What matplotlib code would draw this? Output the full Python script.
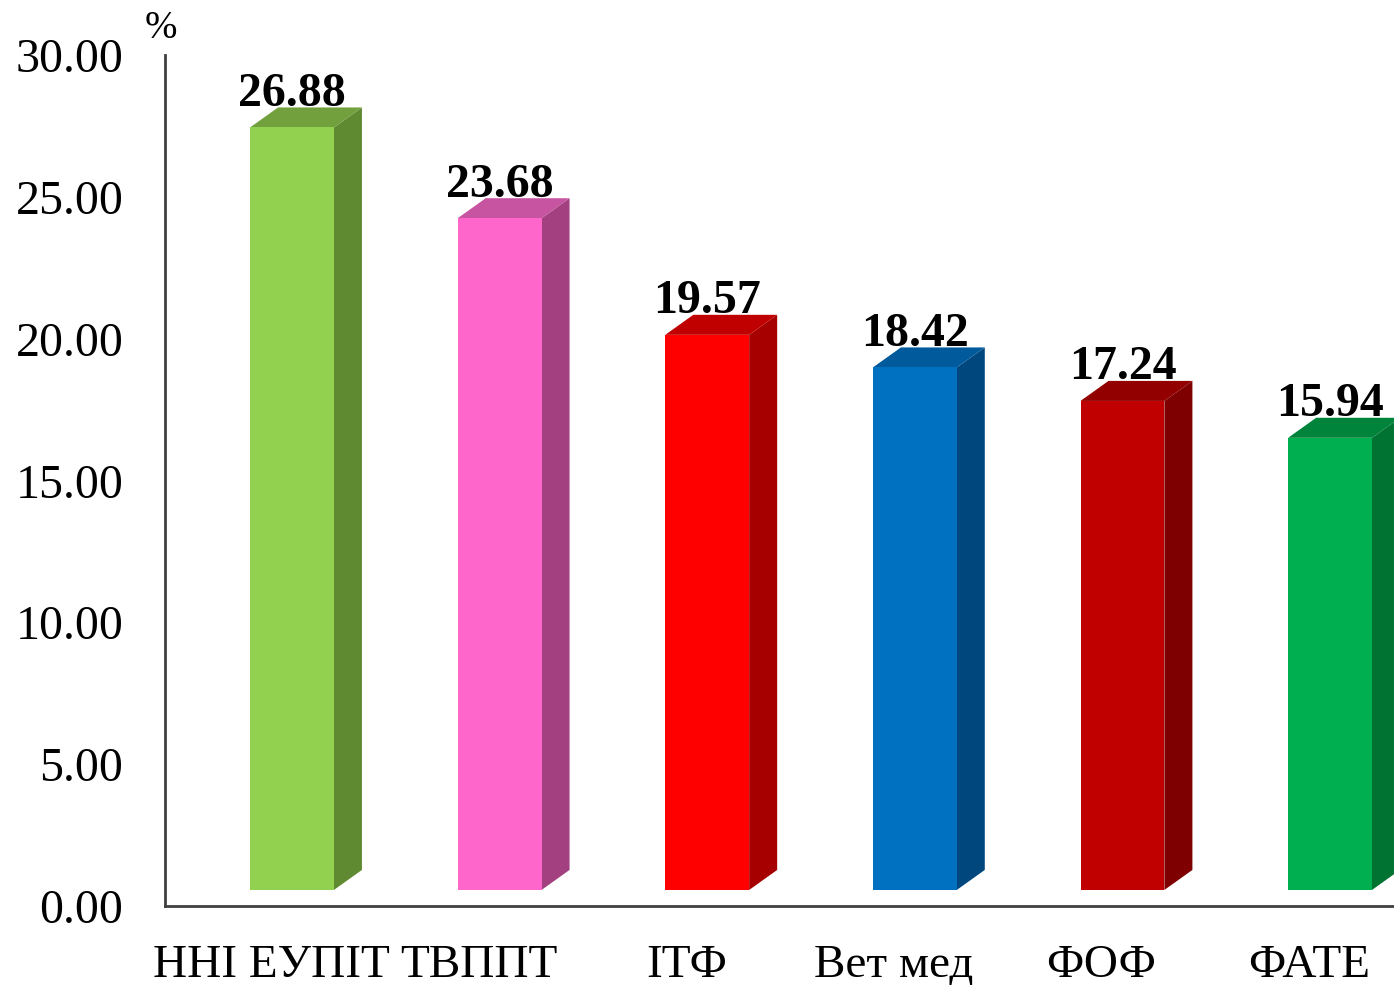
import numpy as np
import matplotlib.pyplot as plt
from matplotlib.patches import Polygon

plt.rcParams['font.family'] = ['Liberation Serif', 'DejaVu Serif']

# data
categories = ["ННІ ЕУПІТ", "ТВППТ", "ІТФ", "Вет мед", "ФОФ", "ФАТЕ"]
values = [26.88, 23.68, 19.57, 18.42, 17.24, 15.94]
front_colors = ["#92D050", "#FF66CC", "#FF0000", "#0070C0", "#C00000", "#00B050"]
side_colors = ["#608A32", "#A3407F", "#A60000", "#00477D", "#7F0000", "#007333"]
top_colors = ["#71A03C", "#C654A0", "#C00000", "#005A9C", "#920000", "#00843B"]

fig = plt.figure(figsize=(13.94, 9.85), dpi=100)
ax = fig.add_axes([165 / 1394, 1 - 906 / 985, 1 - 165 / 1394, 851 / 985])

# fake 3d geometry (in data units)
x_left, x_right = -0.101, 0.303
dx, dy = 0.135, 0.706
base = 0.565

for i, v in enumerate(values):
    x0 = i + x_left
    x1 = i + x_right
    b = base
    t = base + v
    front = Polygon([(x0, b), (x1, b), (x1, t), (x0, t)], closed=True,
                    facecolor=front_colors[i], edgecolor='none', clip_on=False)
    side = Polygon([(x1, b), (x1 + dx, b + dy), (x1 + dx, t + dy), (x1, t)],
                   closed=True, facecolor=side_colors[i], edgecolor='none', clip_on=False)
    top = Polygon([(x0, t), (x0 + dx, t + dy), (x1 + dx, t + dy), (x1, t)],
                  closed=True, facecolor=top_colors[i], edgecolor='none', clip_on=False)
    ax.add_patch(side)
    ax.add_patch(top)
    ax.add_patch(front)
    ax.text((x0 + x1) / 2, t + dy + 0.05, f"{v:.2f}", ha='center', va='baseline',
            fontsize=34.5, fontweight='bold', color='black', zorder=5)

ax.set_xlim(-0.5106, 5.409)
ax.set_ylim(0, 30)
ax.set_yticks(np.arange(0, 31, 5))
ax.set_yticklabels([f"{t:.2f}" for t in np.arange(0, 31, 5)], fontsize=34.5)
ax.set_xticks(range(len(categories)))
ax.set_xticklabels(categories, fontsize=34)
ax.tick_params(axis='y', length=0, pad=30)
ax.tick_params(axis='x', length=0, pad=28)

for s in ['top', 'right']:
    ax.spines[s].set_visible(False)
for s in ['left', 'bottom']:
    ax.spines[s].set_linewidth(2)
    ax.spines[s].set_color('#404040')

fig.text(161 / 1394, 1 - 29 / 985, "%", ha='center', va='center', fontsize=28)

fig.savefig("out.png", dpi=100)
